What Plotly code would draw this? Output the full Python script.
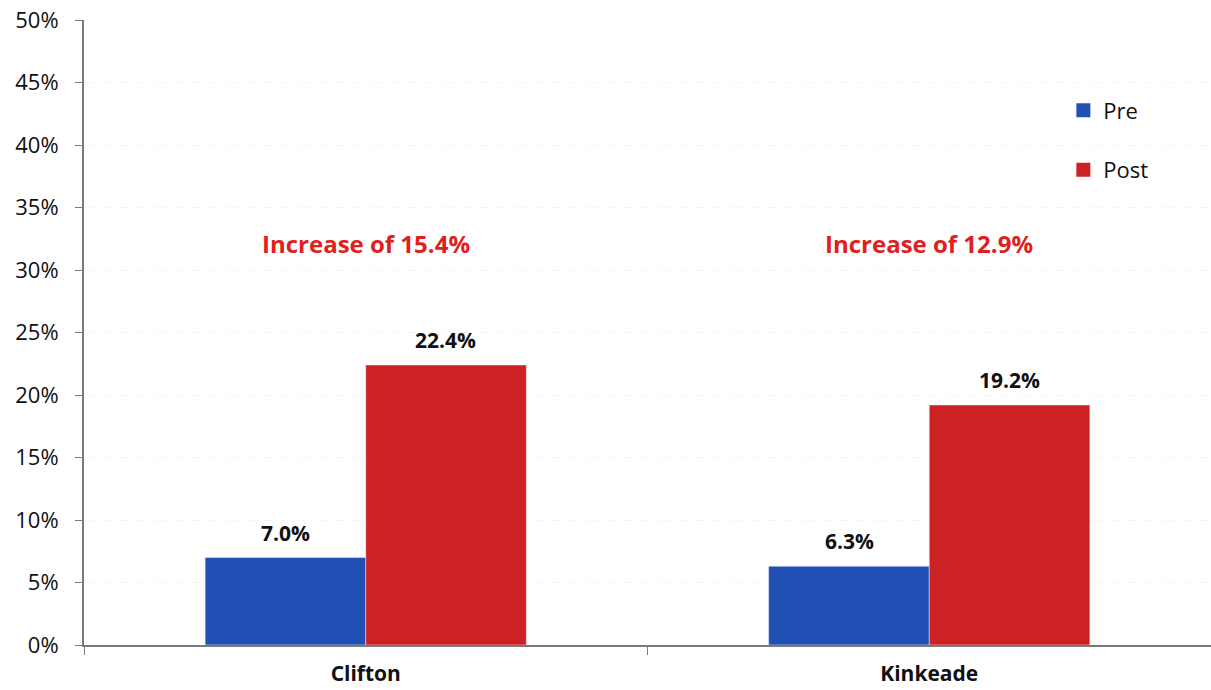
import plotly.graph_objects as go

# Share of participants, before and after, per site
sites = ["Clifton", "Kinkeade"]
pre_values = [7.0, 6.3]
post_values = [22.4, 19.2]
increase_labels = ["Increase of 15.4%", "Increase of 12.9%"]
increase_level = 32.1
y_ticks = [0, 5, 10, 15, 20, 25, 30, 35, 40, 45, 50]

BLUE = "#2150b4"
RED = "#cd2224"
FONT = "Open Sans"
BAR_HALF_PX = 80  # half of one bar's width in pixels, for centring value labels

fig = go.Figure()
fig.add_trace(go.Bar(name="Pre", x=sites, y=pre_values, marker_color=BLUE,
                     showlegend=False))
fig.add_trace(go.Bar(name="Post", x=sites, y=post_values, marker_color=RED,
                     showlegend=False))

# Legend entries with larger square swatches
for name, color, group in (("Pre", BLUE, "pre"), ("Post", RED, "post")):
    fig.add_trace(go.Scatter(
        x=[None], y=[None], mode="markers", name=name, legendgroup=group,
        marker=dict(symbol="square", size=14, color=color),
    ))

# Value labels above each bar
for values, shift in ((pre_values, -BAR_HALF_PX), (post_values, BAR_HALF_PX)):
    for site, v in zip(sites, values):
        fig.add_annotation(
            x=site, y=v, text=f"<b>{v:.1f}%</b>", showarrow=False,
            xshift=shift, yshift=25, yanchor="middle",
            font=dict(family=FONT, size=21, color="#111111"),
        )

for site, label in zip(sites, increase_labels):
    fig.add_annotation(
        x=site, y=increase_level, text=f"<b>{label}</b>", showarrow=False,
        font=dict(family=FONT, size=24, color="#e0201c"),
    )

fig.update_layout(
    width=1211, height=690,
    margin=dict(l=84, r=0, t=20, b=45),
    paper_bgcolor="white", plot_bgcolor="white",
    barmode="group", bargap=0.43, bargroupgap=0,
    font=dict(family=FONT, size=22, color="#111111"),
    legend=dict(
        x=0.869, y=0.889, xanchor="left", yanchor="top",
        font=dict(family=FONT, size=22, color="#111111"),
        traceorder="grouped", tracegroupgap=28,
        itemwidth=30, bgcolor="rgba(0,0,0,0)",
    ),
    showlegend=True,
)

fig.update_yaxes(
    range=[0, 50], tickvals=y_ticks, ticktext=[f"{t}%" for t in y_ticks],
    showline=True, linecolor="#7a7a7a", linewidth=2,
    ticks="outside", ticklen=7, tickcolor="#7a7a7a", tickwidth=1,
    showgrid=True, gridcolor="#f5f5f5", griddash="dash", gridwidth=1,
    zeroline=False, tickfont=dict(family=FONT, size=22, color="#111111"),
    ticklabelstandoff=12, automargin=False,
)
fig.update_xaxes(
    showline=True, linecolor="#7a7a7a", linewidth=2,
    ticks="outside", tickson="boundaries", ticklen=8, tickcolor="#7a7a7a",
    tickfont=dict(family=FONT, size=21, color="#111111"),
    tickvals=sites, ticktext=[f"<b>{s}</b>" for s in sites],
    ticklabelstandoff=9, automargin=False,
)

fig.write_html("out.html")
